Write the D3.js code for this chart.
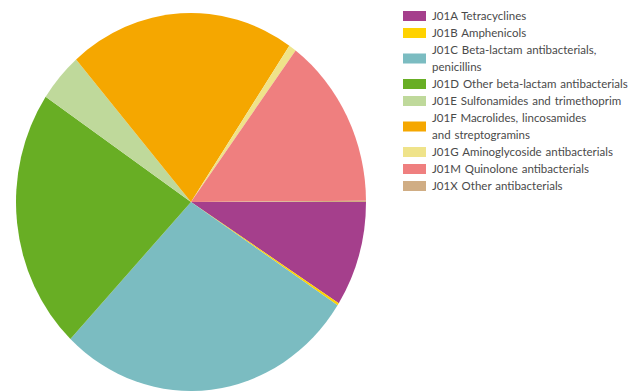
<!DOCTYPE html>
<html>
<head>
<meta charset="utf-8">
<script src="https://cdn.jsdelivr.net/npm/d3@7"></script>
<style>
html,body{margin:0;padding:0;background:#fff;}
svg{display:block;}
</style>
</head>
<body>
<svg id="chart" width="641" height="392"></svg>
<script>
const categories = [
  "J01A Tetracyclines",
  "J01B Amphenicols",
  "J01C Beta-lactam antibacterials, penicillins",
  "J01D Other beta-lactam antibacterials",
  "J01E Sulfonamides and trimethoprim",
  "J01F Macrolides, lincosamides and streptogramins",
  "J01G Aminoglycoside antibacterials",
  "J01M Quinolone antibacterials",
  "J01X Other antibacterials"
];
const legendLines = [
  ["J01A Tetracyclines"],
  ["J01B Amphenicols"],
  ["J01C Beta-lactam antibacterials,", "penicillins"],
  ["J01D Other beta-lactam antibacterials"],
  ["J01E Sulfonamides and trimethoprim"],
  ["J01F Macrolides, lincosamides", "and streptogramins"],
  ["J01G Aminoglycoside antibacterials"],
  ["J01M Quinolone antibacterials"],
  ["J01X Other antibacterials"]
];
const values = [9.0, 0.2, 27.9, 22.3, 4.2, 20.9, 0.7, 14.7, 0.1];
const colors = ["#a53f8c", "#ffd200", "#7bbcc1", "#68ae24", "#bfd99b", "#f5a700", "#efe38a", "#ef7f7f", "#d0ad84"];

const svg = d3.select("#chart");
const data = categories.map((c, i) => ({name: c, value: values[i], color: colors[i], lines: legendLines[i]}));

const cx = 191, cy = 202, rx = 175, ry = 189;
const pie = d3.pie().sort(null).value(d => d.value)
  .startAngle(Math.PI / 2).endAngle(Math.PI / 2 + 2 * Math.PI);
const arc = d3.arc().innerRadius(0).outerRadius(rx);

const g = svg.append("g").attr("transform", `translate(${cx},${cy}) scale(1,${ry / rx})`);
g.selectAll("path").data(pie(data)).join("path")
  .attr("d", arc)
  .attr("fill", d => d.data.color);

// Legend
const legend = svg.append("g");
const lineH = 17;
let lineIdx = 0;
const firstY = 16;
data.forEach(d => {
  const n = d.lines.length;
  const yTop = firstY + lineIdx * lineH;
  const yCenter = yTop + (n - 1) * lineH / 2;
  legend.append("rect")
    .attr("x", 403).attr("y", yCenter - 5)
    .attr("width", 23).attr("height", 10)
    .attr("fill", d.color);
  d.lines.forEach((t, k) => {
    legend.append("text")
      .attr("x", 432).attr("y", yTop + k * lineH)
      .attr("dy", "0.35em")
      .attr("font-family", "Lato, 'Open Sans', sans-serif")
      .attr("font-size", 11.5)
      .attr("word-spacing", 1)
      .attr("fill", "#4a4a4a")
      .text(t);
  });
  lineIdx += n;
});
</script>
</body>
</html>
